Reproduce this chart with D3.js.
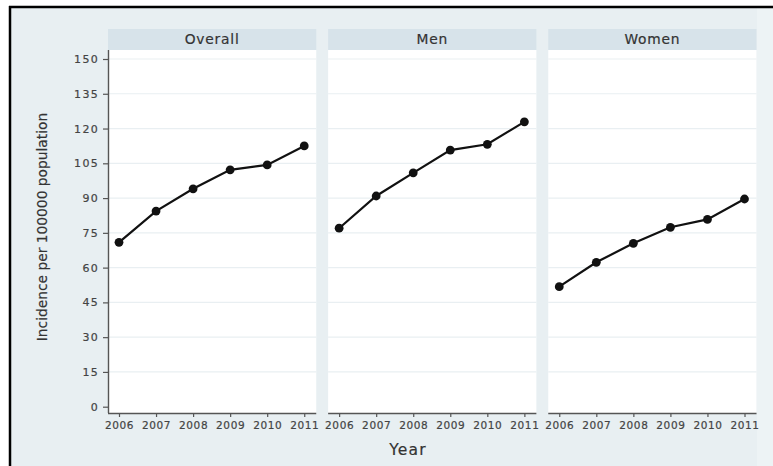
<!DOCTYPE html>
<html><head><meta charset="utf-8">
<script src="https://cdn.jsdelivr.net/npm/d3@7"></script>
<style>html,body{margin:0;padding:0;background:#fff;}svg{display:block;}
text{paint-order:stroke;}</style>
</head><body>
<svg id="c" width="773" height="466"></svg>
<script>
const years = [2006, 2007, 2008, 2009, 2010, 2011];
const panels = ["Overall", "Men", "Women"];
const overall = [70.9, 84.4, 94.0, 102.2, 104.3, 112.5];
const men = [77.0, 90.9, 100.9, 110.7, 113.2, 122.9];
const women = [51.8, 62.3, 70.5, 77.4, 80.8, 89.6];
const yTicks = [0, 15, 30, 45, 60, 75, 90, 105, 120, 135, 150];
const seriesList = [overall, men, women];

const svg = d3.select("#c");
const W = 773, H = 466;
// background
svg.append("rect").attr("x", 10).attr("y", 7).attr("width", W - 10).attr("height", H - 7).attr("fill", "#e8eff2");
svg.append("rect").attr("x", 757).attr("y", 8).attr("width", 16).attr("height", H - 8).attr("fill", "#edf3f5");
// frame lines
svg.append("line").attr("x1", 9).attr("x2", W).attr("y1", 7).attr("y2", 7).attr("stroke", "#000").attr("stroke-width", 2.5);
svg.append("line").attr("x1", 10).attr("x2", 10).attr("y1", 6).attr("y2", H).attr("stroke", "#000").attr("stroke-width", 2.5);

const panelX = d3.scaleBand().domain(panels).range([108, 756.5]).paddingInner(0.054);
const pw = panelX.bandwidth();
const stripTop = 29, plotTop = 50, axisY = 413;
const y = d3.scaleLinear().domain([0, 150]).range([406.7, 59]);

const font = "'DejaVu Sans', sans-serif";
function heavy(sel, col) {
  return sel.attr("stroke", col).attr("stroke-width", 0.2).attr("fill", col);
}

panels.forEach((p, i) => {
  const px = panelX(p);
  const g = svg.append("g");
  // strip
  g.append("rect").attr("x", px).attr("y", stripTop).attr("width", pw).attr("height", plotTop - stripTop).attr("fill", "#d7e3ea");
  heavy(g.append("text").attr("x", px + pw / 2).attr("y", 44).attr("text-anchor", "middle")
    .attr("font-family", font).attr("font-size", 13.8).attr("letter-spacing", 0.8).text(p), "#333");
  // plot region
  g.append("rect").attr("x", px).attr("y", plotTop).attr("width", pw).attr("height", axisY - plotTop).attr("fill", "#ffffff");
  // gridlines
  g.selectAll(".grid").data(yTicks.filter(t => t > 0)).enter().append("line")
    .attr("x1", px).attr("x2", px + pw).attr("y1", d => y(d)).attr("y2", d => y(d))
    .attr("stroke", "#e9eff2").attr("stroke-width", 1.2);

  const x = d3.scalePoint().domain(years).range([px + 11, px + pw - 12]);
  // x axis
  const xa = g.append("g").attr("transform", `translate(0,${axisY})`)
    .call(d3.axisBottom(x).tickSize(4).tickPadding(5).tickSizeOuter(0));
  xa.select(".domain").attr("stroke", "#555").attr("stroke-width", 1.4)
    .attr("d", `M${px},0.5H${px + pw}`);
  xa.selectAll(".tick line").attr("stroke", "#555").attr("stroke-width", 1.2);
  heavy(xa.selectAll(".tick text").attr("font-family", font).attr("font-size", 10.5).attr("letter-spacing", 0.6), "#444");

  const data = years.map((yr, k) => ({ yr, v: seriesList[i][k] }));
  g.append("path").datum(data)
    .attr("d", d3.line().x(d => x(d.yr)).y(d => y(d.v)))
    .attr("fill", "none").attr("stroke", "#111").attr("stroke-width", 2.2);
  g.selectAll(".pt").data(data).enter().append("circle")
    .attr("cx", d => x(d.yr)).attr("cy", d => y(d.v)).attr("r", 4.4).attr("fill", "#111");
});

// y axis
const ya = svg.append("g").attr("transform", `translate(108,0)`)
  .call(d3.axisLeft(y).tickValues(yTicks).tickSize(5).tickPadding(4).tickSizeOuter(0));
ya.select(".domain").attr("stroke", "#555").attr("stroke-width", 1.4).attr("d", `M0.5,${plotTop}V${axisY}`);
ya.selectAll(".tick line").attr("stroke", "#555").attr("stroke-width", 1.2);
heavy(ya.selectAll(".tick text").attr("font-family", font).attr("font-size", 11).attr("letter-spacing", 1.3), "#444");

// axis titles
heavy(svg.append("text").attr("transform", "translate(47,227) rotate(-90)").attr("text-anchor", "middle")
  .attr("font-family", font).attr("font-size", 13.8).text("Incidence per 100000 population"), "#333");
heavy(svg.append("text").attr("x", 408).attr("y", 455).attr("text-anchor", "middle")
  .attr("font-family", font).attr("font-size", 15.5).attr("letter-spacing", 1.2).text("Year"), "#333");
</script>
</body></html>
